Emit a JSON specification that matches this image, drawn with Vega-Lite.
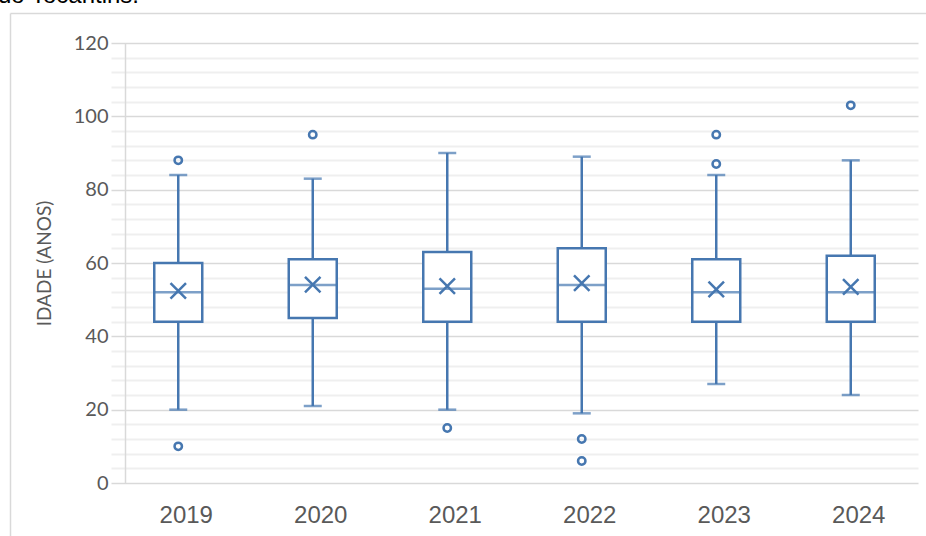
{
  "$schema": "https://vega.github.io/schema/vega-lite/v6.json",
  "width": 796,
  "height": 440,
  "autosize": {"type": "none"},
  "padding": {"left": 125, "top": 43, "right": 5, "bottom": 53},
  "background": "white",
  "config": {"view": {"stroke": null}, "font": "Lato"},
  "title": {
    "text": "do Tocantins.",
    "anchor": "start",
    "frame": "group",
    "dx": -127,
    "offset": -14,
    "baseline": "alphabetic",
    "font": "Liberation Sans",
    "fontSize": 24,
    "fontWeight": "normal",
    "color": "#000000"
  },
  "datasets": {
    "stats": [
      {"ano": "2019", "min": 20, "q1": 44, "mediana": 52, "q3": 60, "max": 84, "media": 52.4},
      {"ano": "2020", "min": 21, "q1": 45, "mediana": 54, "q3": 61, "max": 83, "media": 54.1},
      {"ano": "2021", "min": 20, "q1": 44, "mediana": 53, "q3": 63, "max": 90, "media": 53.7},
      {"ano": "2022", "min": 19, "q1": 44, "mediana": 54, "q3": 64, "max": 89, "media": 54.5},
      {"ano": "2023", "min": 27, "q1": 44, "mediana": 52, "q3": 61, "max": 84, "media": 52.8},
      {"ano": "2024", "min": 24, "q1": 44, "mediana": 52, "q3": 62, "max": 88, "media": 53.5}
    ],
    "outliers": [
      {"ano": "2019", "idade": 88},
      {"ano": "2019", "idade": 10},
      {"ano": "2020", "idade": 95},
      {"ano": "2021", "idade": 15},
      {"ano": "2022", "idade": 12},
      {"ano": "2022", "idade": 6},
      {"ano": "2023", "idade": 95},
      {"ano": "2023", "idade": 87},
      {"ano": "2024", "idade": 103}
    ],
    "frame": [{"a": 0}]
  },
  "layer": [
    {
      "data": {"name": "frame"},
      "mark": {"type": "point", "opacity": 0},
      "encoding": {
        "x": {
          "field": "a", "type": "quantitative",
          "scale": {"domain": [0, 1], "range": [-115, 820], "nice": false, "zero": false},
          "axis": {"orient": "top", "offset": 30, "labels": false, "ticks": false, "grid": false, "title": null, "domainColor": "#d9d9d9", "domainWidth": 1.5}
        },
        "y": {
          "field": "a", "type": "quantitative",
          "scale": {"domain": [0, 1], "range": [520, -30], "nice": false, "zero": false},
          "axis": {"orient": "left", "offset": 115, "labels": false, "ticks": false, "grid": false, "title": null, "domainColor": "#d9d9d9", "domainWidth": 1.5}
        }
      }
    },
    {
      "data": {"name": "stats"},
      "encoding": {
        "x": {
          "field": "ano", "type": "nominal",
          "scale": {"range": [-14, 793], "paddingInner": 0, "paddingOuter": 0},
          "axis": {
            "orient": "bottom",
            "title": null, "labelAngle": 0, "labelFont": "Liberation Sans", "labelFontSize": 24,
            "labelColor": "#595959", "labelPadding": 20, "labelOffset": 8,
            "ticks": false, "domain": false, "grid": false
          }
        }
      },
      "layer": [
        {
          "mark": {"type": "rule", "color": "#4677B0", "strokeWidth": 2.5},
          "encoding": {
            "y": {
              "field": "min", "type": "quantitative",
              "scale": {"domain": [0, 120], "nice": false},
              "axis": {
                "orient": "left",
                "title": "IDADE (ANOS)",
                "titleFont": "Lato", "titleFontSize": 19, "titleFontWeight": "normal",
                "titleColor": "#595959", "titlePadding": 19,
                "values": [0, 4, 8, 12, 16, 20, 24, 28, 32, 36, 40, 44, 48, 52, 56, 60, 64, 68, 72, 76, 80, 84, 88, 92, 96, 100, 104, 108, 112, 116, 120],
                "tickCount": 40,
                "labelExpr": "datum.value % 20 === 0 ? datum.label : ''",
                "labelOverlap": false,
                "labelFont": "Lato", "labelFontSize": 20, "labelColor": "#595959", "labelPadding": 17,
                "ticks": false,
                "domain": true, "domainColor": "#d9d9d9", "domainWidth": 1.5,
                "grid": true,
                "gridColor": {"condition": {"test": "datum.value % 20 === 0", "value": "#d9d9d9"}, "value": "#efefef"},
                "gridWidth": {"condition": {"test": "datum.value % 20 === 0", "value": 1.5}, "value": 2}
              }
            },
            "y2": {"field": "max"}
          }
        },
        {
          "mark": {"type": "tick", "color": "#4677B0", "thickness": 2.5, "size": 18},
          "encoding": {"y": {"field": "max", "type": "quantitative"}}
        },
        {
          "mark": {"type": "tick", "color": "#4677B0", "thickness": 2.5, "size": 18},
          "encoding": {"y": {"field": "min", "type": "quantitative"}}
        },
        {
          "mark": {"type": "bar", "fill": "white", "stroke": "#4677B0", "strokeWidth": 2.5, "size": 48},
          "encoding": {
            "y": {"field": "q1", "type": "quantitative"},
            "y2": {"field": "q3"}
          }
        },
        {
          "mark": {"type": "tick", "color": "#4677B0", "thickness": 2.5, "size": 48},
          "encoding": {"y": {"field": "mediana", "type": "quantitative"}}
        },
        {
          "mark": {"type": "point", "shape": "M-1,-1L1,1M1,-1L-1,1", "filled": false, "stroke": "#4677B0", "strokeWidth": 2.5, "size": 240, "opacity": 1},
          "encoding": {"y": {"field": "media", "type": "quantitative"}}
        },
        {
          "data": {"name": "outliers"},
          "mark": {"type": "point", "shape": "circle", "filled": false, "stroke": "#4677B0", "strokeWidth": 2.5, "size": 55, "opacity": 1},
          "encoding": {"y": {"field": "idade", "type": "quantitative"}}
        }
      ]
    }
  ],
  "resolve": {"scale": {"x": "independent", "y": "independent"}, "axis": {"x": "independent", "y": "independent"}}
}
